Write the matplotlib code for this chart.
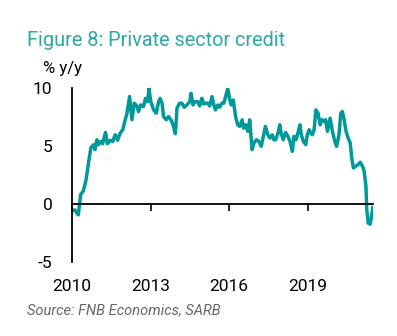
import matplotlib
matplotlib.use("Agg")
import matplotlib.pyplot as plt

years = [2010.00, 2010.11, 2010.24, 2010.33, 2010.43, 2010.54, 2010.63, 2010.72, 2010.82, 2010.88,
         2010.95, 2011.01, 2011.10, 2011.17, 2011.28, 2011.35, 2011.46, 2011.56, 2011.65, 2011.74,
         2011.84, 2011.94, 2012.03, 2012.09, 2012.20, 2012.29, 2012.38, 2012.48, 2012.54, 2012.63,
         2012.73, 2012.81, 2012.89, 2012.94, 2013.01, 2013.12, 2013.22, 2013.31, 2013.37, 2013.44,
         2013.50, 2013.60, 2013.69, 2013.78, 2013.86, 2013.95, 2014.01, 2014.11, 2014.20, 2014.29,
         2014.39, 2014.50, 2014.55, 2014.62, 2014.71, 2014.80, 2014.88, 2014.96, 2015.03, 2015.11,
         2015.19, 2015.26, 2015.35, 2015.42, 2015.48, 2015.57, 2015.64, 2015.73, 2015.80, 2015.87,
         2015.95, 2016.03, 2016.08, 2016.16, 2016.25, 2016.33, 2016.41, 2016.50, 2016.56, 2016.63,
         2016.72, 2016.79, 2016.88, 2016.95, 2017.05, 2017.14, 2017.23, 2017.31, 2017.39, 2017.48,
         2017.56, 2017.65, 2017.71, 2017.78, 2017.87, 2017.94, 2017.99, 2018.07, 2018.16, 2018.25,
         2018.33, 2018.42, 2018.48, 2018.56, 2018.63, 2018.71, 2018.76, 2018.84, 2018.93, 2018.99,
         2019.06, 2019.12, 2019.18, 2019.25, 2019.32, 2019.40, 2019.48, 2019.55, 2019.63, 2019.69,
         2019.76, 2019.86, 2019.95, 2020.04, 2020.11, 2020.20, 2020.27, 2020.33, 2020.40, 2020.47,
         2020.55, 2020.63, 2020.68, 2020.75, 2020.84, 2020.93, 2021.01, 2021.10, 2021.16, 2021.23,
         2021.26, 2021.32, 2021.39, 2021.44, 2021.49]
credit_yy = [-0.60, -0.51, -0.94, 0.83, 1.11, 2.11, 3.54, 4.83, 5.11, 4.69,
             5.54, 5.11, 5.40, 5.20, 6.17, 5.20, 5.49, 5.40, 5.97, 5.49,
             6.11, 6.40, 7.26, 7.69, 9.26, 7.26, 8.69, 8.46, 7.97, 8.54,
             8.40, 9.11, 8.83, 9.97, 8.83, 8.11, 7.83, 8.83, 9.11, 8.69,
             7.54, 7.26, 7.54, 7.26, 6.83, 6.06, 8.26, 8.69, 8.69, 8.34,
             8.54, 8.83, 9.54, 8.54, 8.83, 8.83, 8.46, 9.11, 8.63, 8.69,
             8.69, 8.46, 9.26, 8.54, 8.11, 8.54, 8.34, 8.69, 8.69, 9.26,
             9.97, 8.97, 8.54, 8.97, 7.54, 6.83, 6.69, 7.26, 6.54, 6.83,
             6.26, 7.26, 4.69, 5.26, 5.54, 5.40, 4.97, 5.83, 6.69, 5.97,
             5.69, 5.97, 5.54, 5.54, 6.11, 6.83, 6.11, 5.54, 6.17, 5.83,
             5.40, 4.54, 5.83, 5.54, 6.11, 6.83, 5.97, 5.40, 5.11, 5.97,
             6.40, 6.11, 5.97, 6.40, 8.11, 7.83, 6.83, 7.26, 7.11, 7.26,
             6.26, 7.40, 6.26, 5.40, 4.97, 5.97, 7.83, 7.97, 7.26, 6.26,
             5.69, 5.26, 4.11, 3.11, 3.26, 3.40, 3.60, 3.26, 2.83, 1.54,
             -0.46, -1.66, -1.74, -1.17, -0.31]
x_ticks = [2010, 2013, 2016, 2019]
x_labels = ["2010", "2013", "2016", "2019"]
y_ticks = [-5, 0, 5, 10]
y_labels = ["-5", "0", "5", "10"]

teal = "#00999a"
title_color = "#2aa9a8"
font = "Roboto"

fig = plt.figure(figsize=(3.97, 3.36), dpi=100)
ax = fig.add_axes([72/397, (336-262)/336, 301/397, (262-88)/336])

ax.plot(years, credit_yy, color=teal, lw=2.5, solid_joinstyle="round", zorder=1)

ax.set_xlim(2010, 2021.5)
ax.set_ylim(-5, 10)
for s in ["top", "right"]:
    ax.spines[s].set_visible(False)
ax.spines["bottom"].set_position(("data", 0))
ax.spines["bottom"].set_zorder(3)
ax.spines["left"].set_linewidth(1.3)
ax.spines["bottom"].set_linewidth(1.3)

ax.set_xticks(x_ticks)
ax.set_xticklabels(x_labels, family=font, fontsize=12.5)
ax.tick_params(axis="x", direction="out", length=5, width=1.2, pad=49)
ax.set_yticks(y_ticks)
ax.set_yticklabels(y_labels, family=font, fontsize=12.5)
ax.tick_params(axis="y", length=0, pad=14)

fig.text(27/397, 1 - 41/336, "Figure 8: Private sector credit", color=title_color,
         family=font, fontsize=14.3, fontweight="normal", va="center", ha="left")
fig.text(43/397, 1 - 69/336, "% y/y", color="black", family=font, fontsize=12,
         va="center", ha="left")
fig.text(27/397, 1 - 310/336, "Source: FNB Economics, SARB", color="#666666",
         family=font, fontsize=10.5, style="italic", va="center", ha="left")

fig.savefig("out.png", dpi=100)
